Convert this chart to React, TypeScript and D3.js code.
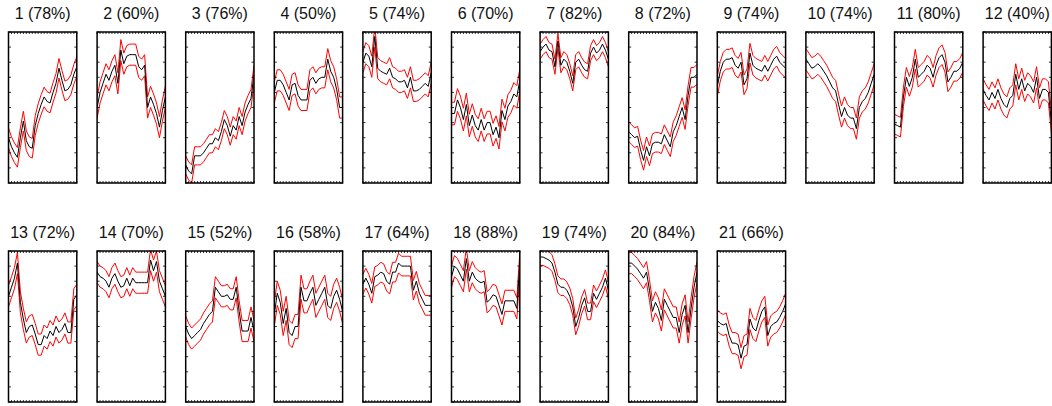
import { useEffect, useRef } from "react";
import * as d3 from "d3";

// percentage shown in each panel title
const percents = [78, 60, 76, 50, 74, 70, 82, 72, 74, 74, 80, 40, 72, 70, 52, 58, 64, 88, 74, 84, 66];

// mean profile of each cluster (black line), 24 samples each
const means: number[][] = [
  [0.30, 0.24, 0.20, 0.17, 0.30, 0.41, 0.28, 0.24, 0.23, 0.38, 0.46, 0.52, 0.57, 0.54, 0.53, 0.60, 0.66, 0.76, 0.68, 0.61, 0.62, 0.65, 0.72, 0.77],
  [0.50, 0.60, 0.66, 0.72, 0.68, 0.74, 0.78, 0.66, 0.88, 0.79, 0.84, 0.85, 0.85, 0.85, 0.77, 0.75, 0.78, 0.50, 0.57, 0.52, 0.46, 0.37, 0.48, 0.57],
  [0.12, 0.08, 0.06, 0.18, 0.18, 0.18, 0.20, 0.23, 0.26, 0.26, 0.30, 0.28, 0.34, 0.42, 0.38, 0.31, 0.38, 0.35, 0.44, 0.38, 0.47, 0.52, 0.56, 0.72],
  [0.60, 0.68, 0.68, 0.65, 0.60, 0.55, 0.65, 0.66, 0.58, 0.55, 0.55, 0.55, 0.68, 0.70, 0.66, 0.69, 0.70, 0.70, 0.82, 0.74, 0.70, 0.62, 0.50, 0.50],
  [0.80, 0.86, 0.84, 0.77, 0.97, 0.76, 0.74, 0.73, 0.72, 0.76, 0.70, 0.69, 0.67, 0.67, 0.68, 0.63, 0.70, 0.61, 0.61, 0.62, 0.64, 0.66, 0.64, 0.73],
  [0.46, 0.46, 0.55, 0.50, 0.42, 0.52, 0.38, 0.45, 0.38, 0.35, 0.42, 0.35, 0.40, 0.40, 0.32, 0.37, 0.30, 0.48, 0.42, 0.51, 0.54, 0.59, 0.57, 0.68],
  [0.87, 0.90, 0.92, 0.88, 0.87, 0.77, 0.94, 0.78, 0.82, 0.80, 0.74, 0.66, 0.80, 0.82, 0.78, 0.75, 0.74, 0.86, 0.90, 0.86, 0.88, 0.92, 0.88, 0.82],
  [0.34, 0.32, 0.30, 0.31, 0.22, 0.15, 0.24, 0.18, 0.26, 0.27, 0.27, 0.26, 0.32, 0.28, 0.24, 0.34, 0.38, 0.44, 0.50, 0.42, 0.58, 0.70, 0.70, 0.72],
  [0.64, 0.74, 0.80, 0.82, 0.82, 0.83, 0.78, 0.76, 0.80, 0.65, 0.69, 0.86, 0.78, 0.76, 0.75, 0.74, 0.78, 0.74, 0.78, 0.82, 0.84, 0.80, 0.78, 0.76],
  [0.82, 0.79, 0.76, 0.77, 0.79, 0.77, 0.74, 0.71, 0.67, 0.63, 0.61, 0.52, 0.44, 0.50, 0.45, 0.43, 0.43, 0.36, 0.50, 0.54, 0.56, 0.60, 0.66, 0.72],
  [0.39, 0.38, 0.37, 0.57, 0.70, 0.64, 0.70, 0.82, 0.70, 0.72, 0.74, 0.78, 0.76, 0.70, 0.78, 0.83, 0.85, 0.80, 0.67, 0.70, 0.74, 0.74, 0.76, 0.80],
  [0.62, 0.58, 0.55, 0.60, 0.56, 0.62, 0.56, 0.52, 0.50, 0.56, 0.58, 0.72, 0.62, 0.69, 0.61, 0.66, 0.64, 0.60, 0.70, 0.56, 0.62, 0.62, 0.60, 0.40],
  [0.70, 0.76, 0.82, 0.92, 0.66, 0.55, 0.46, 0.50, 0.51, 0.45, 0.38, 0.38, 0.44, 0.42, 0.47, 0.44, 0.50, 0.46, 0.48, 0.52, 0.46, 0.46, 0.68, 0.71],
  [0.86, 0.83, 0.82, 0.80, 0.76, 0.82, 0.85, 0.80, 0.76, 0.77, 0.82, 0.77, 0.82, 0.79, 0.79, 0.79, 0.79, 0.79, 0.94, 0.87, 0.93, 0.80, 0.75, 0.70],
  [0.50, 0.45, 0.42, 0.44, 0.46, 0.48, 0.52, 0.55, 0.58, 0.60, 0.76, 0.73, 0.70, 0.70, 0.71, 0.68, 0.68, 0.76, 0.60, 0.47, 0.47, 0.47, 0.56, 0.47],
  [0.58, 0.72, 0.66, 0.52, 0.62, 0.46, 0.44, 0.50, 0.50, 0.76, 0.67, 0.67, 0.72, 0.76, 0.64, 0.68, 0.72, 0.76, 0.64, 0.62, 0.70, 0.74, 0.68, 0.60],
  [0.78, 0.82, 0.78, 0.72, 0.83, 0.84, 0.86, 0.85, 0.80, 0.78, 0.86, 0.86, 0.92, 0.90, 0.90, 0.90, 0.90, 0.74, 0.80, 0.72, 0.68, 0.64, 0.64, 0.64],
  [0.83, 0.90, 0.88, 0.84, 0.80, 0.95, 0.80, 0.86, 0.82, 0.80, 0.79, 0.80, 0.66, 0.68, 0.71, 0.70, 0.64, 0.58, 0.67, 0.67, 0.67, 0.67, 0.62, 0.92],
  [0.96, 0.96, 0.95, 0.94, 0.92, 0.86, 0.78, 0.76, 0.76, 0.74, 0.70, 0.63, 0.50, 0.56, 0.64, 0.69, 0.60, 0.60, 0.72, 0.68, 0.72, 0.76, 0.82, 0.74],
  [0.92, 0.92, 0.90, 0.88, 0.85, 0.82, 0.86, 0.74, 0.60, 0.66, 0.62, 0.54, 0.68, 0.64, 0.60, 0.56, 0.56, 0.46, 0.58, 0.64, 0.46, 0.62, 0.76, 0.86],
  [0.54, 0.52, 0.51, 0.52, 0.44, 0.39, 0.39, 0.38, 0.29, 0.37, 0.38, 0.55, 0.49, 0.47, 0.54, 0.60, 0.63, 0.44, 0.50, 0.52, 0.53, 0.56, 0.60, 0.65],
];

// half-width of the red band around each mean
const spreads = [0.065, 0.07, 0.06, 0.07, 0.07, 0.075, 0.05, 0.065, 0.065, 0.07, 0.065, 0.07,
  0.07, 0.07, 0.07, 0.08, 0.065, 0.07, 0.055, 0.07, 0.07];

const yTicks = d3.range(0, 1.0001, 0.1);

export default function App() {
  const ref = useRef<SVGSVGElement>(null);

  useEffect(() => {
    if (!ref.current) return;
    const svg = d3.select(ref.current);
    svg.selectAll("*").remove();

    const W = 1052, H = 406;
    svg.attr("viewBox", `0 0 ${W} ${H}`);

    const cols = 12;
    const left0 = 8.5, colStep = 88.6, pw = 68.3;
    const top0 = 32, rowStep = 219, ph = 151;

    const defs = svg.append("defs");

    means.forEach((m, i) => {
      const col = i % cols;
      const row = Math.floor(i / cols);
      const x0 = left0 + col * colStep;
      const y0 = top0 + row * rowStep;

      const x = d3.scaleLinear().domain([0, m.length - 1]).range([x0, x0 + pw]);
      const y = d3.scaleLinear().domain([0, 1]).range([y0 + ph, y0]);

      defs.append("clipPath").attr("id", `clip${i}`)
        .append("rect")
        .attr("x", x0).attr("y", y0).attr("width", pw).attr("height", ph);

      const g = svg.append("g");

      // title
      g.append("text")
        .attr("x", x0 + pw / 2)
        .attr("y", y0 - 13)
        .attr("text-anchor", "middle")
        .attr("font-family", "Liberation Sans, Arial, sans-serif")
        .attr("font-size", 16)
        .attr("fill", "#111")
        .text(`${i + 1} (${percents[i]}%)`);

      const line = d3.line<number>()
        .x((_, j) => x(j))
        .y((d) => y(d));

      const s = spreads[i];
      const lines = g.append("g").attr("clip-path", `url(#clip${i})`).attr("fill", "none");
      lines.append("path").attr("d", line(m.map((v) => v + s))).attr("stroke", "#f00").attr("stroke-width", 1);
      lines.append("path").attr("d", line(m.map((v) => v - s))).attr("stroke", "#f00").attr("stroke-width", 1);
      lines.append("path").attr("d", line(m)).attr("stroke", "#000").attr("stroke-width", 1);

      // inward ticks
      const ticks = g.append("g").attr("stroke", "#000").attr("stroke-width", 0.8);
      yTicks.forEach((t) => {
        ticks.append("line").attr("x1", x0).attr("x2", x0 + 2.5).attr("y1", y(t)).attr("y2", y(t));
        ticks.append("line").attr("x1", x0 + pw).attr("x2", x0 + pw - 2.5).attr("y1", y(t)).attr("y2", y(t));
      });
      d3.range(m.length).forEach((j) => {
        ticks.append("line").attr("x1", x(j)).attr("x2", x(j)).attr("y1", y0).attr("y2", y0 + 2);
        ticks.append("line").attr("x1", x(j)).attr("x2", x(j)).attr("y1", y0 + ph).attr("y2", y0 + ph - 2);
      });

      // box
      g.append("rect")
        .attr("x", x0).attr("y", y0).attr("width", pw).attr("height", ph)
        .attr("fill", "none").attr("stroke", "#000").attr("stroke-width", 1.5);
    });
  }, []);

  return (
    <svg
      ref={ref}
      width={1052}
      height={406}
      style={{ position: "absolute", left: 0, top: 0, background: "#fff" }}
    />
  );
}
